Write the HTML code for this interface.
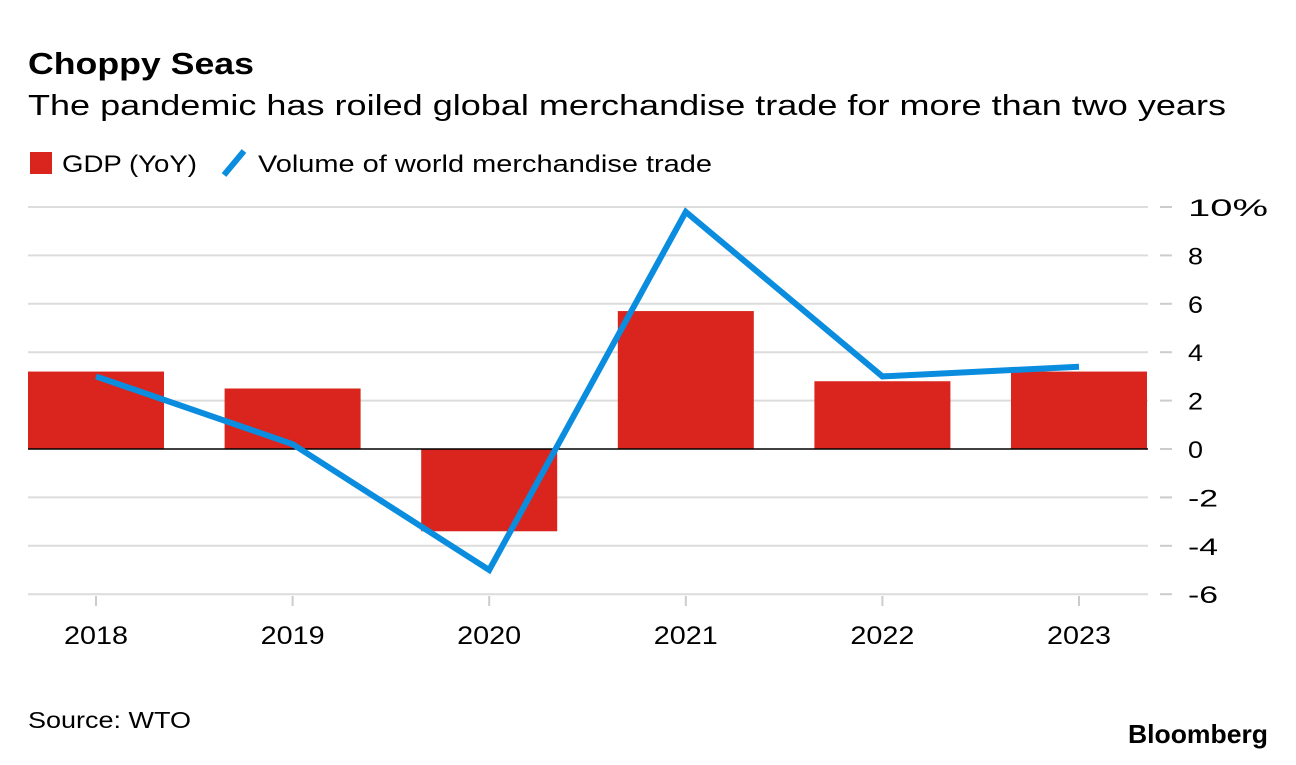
<!DOCTYPE html>
<html><head><meta charset="utf-8">
<style>
body{margin:0;background:#fff;font-family:"Liberation Sans",Arial,sans-serif;}
svg text{font-family:"Liberation Sans",Arial,sans-serif;}
</style></head>
<body>
<svg width="1296" height="760" xmlns="http://www.w3.org/2000/svg">
<text x="28" y="74" font-size="31" font-weight="bold" fill="#000" textLength="226" lengthAdjust="spacingAndGlyphs">Choppy Seas</text>
<text x="28" y="115" font-size="29" fill="#000" textLength="1198" lengthAdjust="spacingAndGlyphs">The pandemic has roiled global merchandise trade for more than two years</text>
<g>
<rect x="30" y="152" width="22" height="22" fill="#d9251d"/>
<text x="62" y="172" font-size="24" textLength="135" lengthAdjust="spacingAndGlyphs">GDP (YoY)</text>
<line x1="224" y1="175" x2="244" y2="151" stroke="#0a8ddf" stroke-width="6"/>
<text x="258" y="172" font-size="24" textLength="454" lengthAdjust="spacingAndGlyphs">Volume of world merchandise trade</text>
</g>
<g id="grid"></g><g id="bars"></g><g id="zero"></g><g id="line"></g><g id="axes"></g>
<text x="28" y="728" font-size="23" textLength="163" lengthAdjust="spacingAndGlyphs">Source: WTO</text>
<text x="1268" y="743" font-size="26" font-weight="bold" text-anchor="end" textLength="140" lengthAdjust="spacingAndGlyphs">Bloomberg</text>
</svg>
<script>
const categories=["2018","2019","2020","2021","2022","2023"];
const gdpValues=[3.2,2.5,-3.4,5.7,2.8,3.2];
const tradeValues=[3.0,0.2,-5.0,9.8,3.0,3.4];
const yTicks=[10,8,6,4,2,0,-2,-4,-6];
const NS="http://www.w3.org/2000/svg";
function y(v){return 449-v*24.2;}
function x(i){return 96+i*196.6;}
const bw=136;
function mk(tag,attrs,parent,txt){const e=document.createElementNS(NS,tag);for(const k in attrs)e.setAttribute(k,attrs[k]);if(txt!==undefined)e.textContent=txt;document.getElementById(parent).appendChild(e);return e;}
yTicks.forEach(t=>{
 if(t!==0){const g=mk('line',{x1:28,x2:1148,y1:y(t),y2:y(t),stroke:'#dcdcdc','stroke-width':2},'grid');
 
 }
 const tk=mk('line',{x1:1160,x2:1172,y1:y(t),y2:y(t),stroke:'#ccc','stroke-width':2},'axes');
 
 
 const s=t===10?'10%':String(t);
 const lb=mk('text',{x:1188,y:y(t)+9,'font-size':24,textLength:(t===10?80:s.length*15),lengthAdjust:'spacingAndGlyphs'},'axes',s);
 
 
});
categories.forEach((c,i)=>{
 const v=gdpValues[i];
 const r=mk('rect',{x:x(i)-bw/2,y:Math.min(y(v),y(0)),width:bw,height:Math.abs(y(v)-y(0)),fill:'#d9251d'},'bars');
 
 
 const tk=mk('line',{x1:x(i),x2:x(i),y1:596,y2:606,stroke:'#ccc','stroke-width':2},'axes');
 
 
 const lb=mk('text',{x:x(i),y:644,'font-size':25,'text-anchor':'middle',textLength:64,lengthAdjust:'spacingAndGlyphs'},'axes',c);
 
 
});
const z=mk('line',{x1:28,x2:1148,y1:y(0),y2:y(0),stroke:'#000','stroke-width':1.5},'zero');


const p=mk('polyline',{points:tradeValues.map((v,i)=>x(i)+','+y(v)).join(' '),fill:'none',stroke:'#0a8ddf','stroke-width':6,'stroke-linejoin':'miter'},'line');


</script>
</body></html>
